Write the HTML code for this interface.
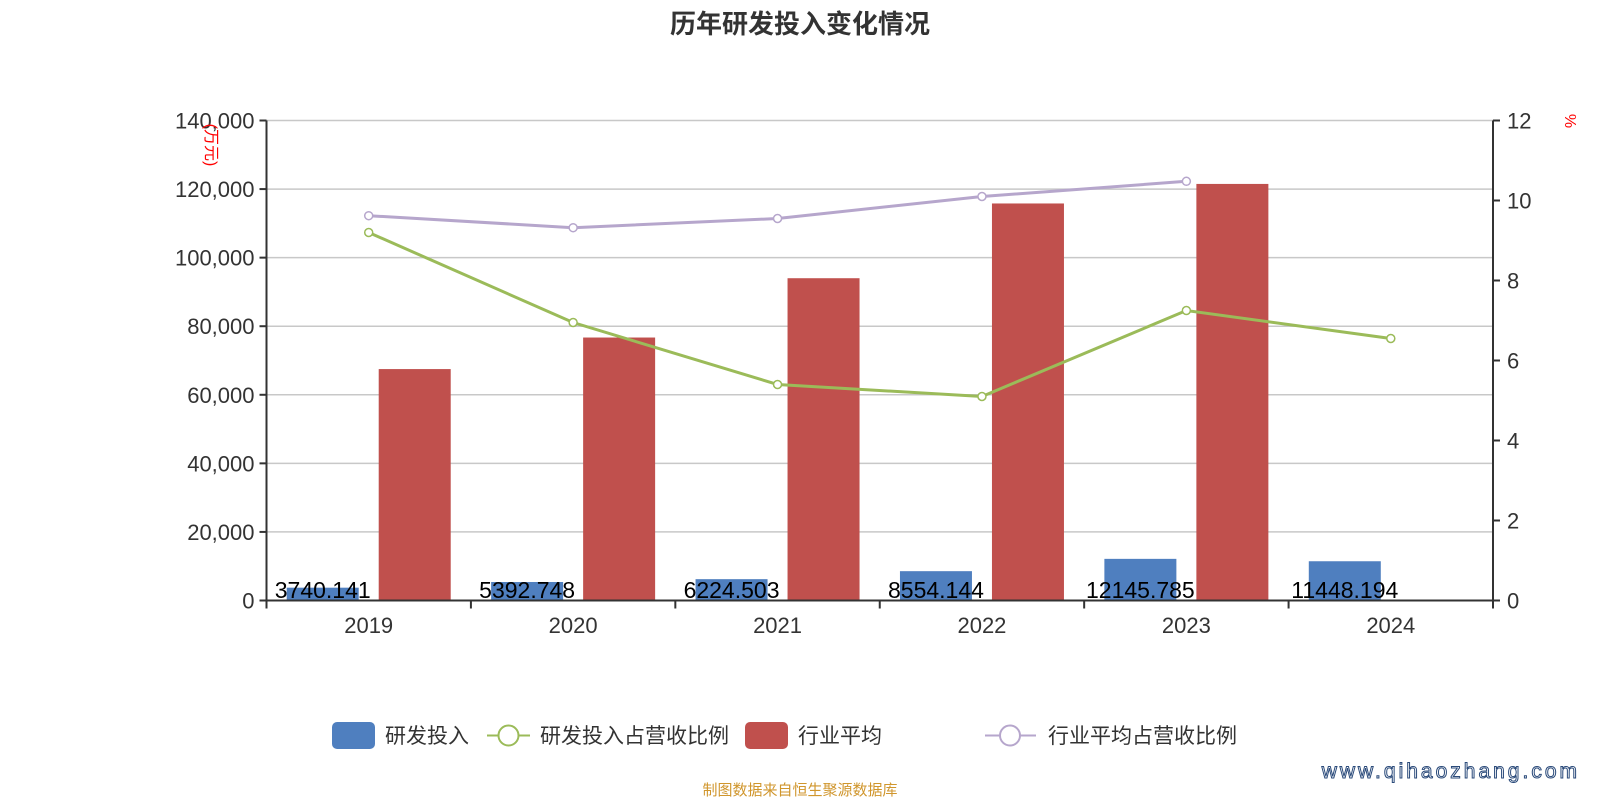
<!DOCTYPE html>
<html><head><meta charset="utf-8">
<style>
html,body{margin:0;padding:0;background:#fff;}
svg{display:block;font-family:"Liberation Sans","Noto Sans CJK SC",sans-serif;}
</style></head>
<body>
<svg id="chart" width="1600" height="800" viewBox="0 0 1600 800">
<text x="800" y="33" text-anchor="middle" font-size="26" font-weight="bold" fill="#333">历年研发投入变化情况</text>
<g id="grid"></g>
<g id="bars"></g>
<g id="lines"></g>
<g id="axes"></g>
<text transform="translate(206,145) rotate(90)" text-anchor="middle" font-size="16" fill="#f00">(万元)</text>
<text transform="translate(1565,121) rotate(90)" text-anchor="middle" font-size="16" fill="#f00">%</text>
<g>
<g><rect x="332" y="722" width="43" height="27" rx="5" fill="#4f7fbf"/><text x="385" y="743" font-size="21" fill="#333">研发投入</text></g>
<g><line x1="487" y1="735.5" x2="530" y2="735.5" stroke="#9bbb59" stroke-width="2"/><circle cx="508.5" cy="735.5" r="10" fill="#fff" stroke="#9bbb59" stroke-width="2"/><text x="540" y="743" font-size="21" fill="#333">研发投入占营收比例</text></g>
<g><rect x="745" y="722" width="43" height="27" rx="5" fill="#c0504d"/><text x="798" y="743" font-size="21" fill="#333">行业平均</text></g>
<g><line x1="985" y1="735.5" x2="1036" y2="735.5" stroke="#b6a6cc" stroke-width="2"/><circle cx="1010" cy="735.5" r="10" fill="#fff" stroke="#b6a6cc" stroke-width="2"/><text x="1048" y="743" font-size="21" fill="#333">行业平均占营收比例</text></g>
</g>
<text x="800" y="795" text-anchor="middle" font-size="15" fill="#d0962d">制图数据来自恒生聚源数据库</text>
<text x="1580" y="778" text-anchor="end" font-size="21" fill="#fff" stroke="#2a4a7a" stroke-width="1" letter-spacing="3">www.qihaozhang.com</text>
</svg>
<script>
const categories=["2019","2020","2021","2022","2023","2024"];
const rdValues=[3740.141,5392.748,6224.503,8554.144,12145.785,11448.194];
const rdLabels=["3740.141","5392.748","6224.503","8554.144","12145.785","11448.194"];
const industryValues=[67500,76700,94000,115800,121500,null];
const rdRatio=[9.2,6.95,5.4,5.1,7.25,6.55];
const industryRatio=[9.62,9.32,9.55,10.1,10.48,null];
const leftTicks=[0,20000,40000,60000,80000,100000,120000,140000];
const rightTicks=[0,2,4,6,8,10,12];

const NS="http://www.w3.org/2000/svg";
const L=266.5,R=1493,T=120.5,B=600.5;
const band=(R-L)/categories.length;
const yL=v=>B-(v/140000)*(B-T);
const yR=v=>B-(v/12)*(B-T);
const cx=i=>L+band*(i+0.5);
function mk(tag,attrs,parent){const e=document.createElementNS(NS,tag);for(const k in attrs)e.setAttribute(k,attrs[k]);parent.appendChild(e);return e;}
const grid=document.getElementById('grid'),bars=document.getElementById('bars'),lines=document.getElementById('lines'),axes=document.getElementById('axes');
leftTicks.forEach(t=>{
  const y=yL(t);
  if(t>0){const g=mk('line',{x1:L,x2:R,y1:y,y2:y,stroke:'#c8c8c8','stroke-width':1.5},grid);
  
  }
  mk('line',{x1:L-7,x2:L,y1:y,y2:y,stroke:'#333','stroke-width':2},axes);
  const tx=mk('text',{x:L-12,y:y+8,'text-anchor':'end','font-size':22,fill:'#333'},axes);
  tx.textContent=t.toLocaleString('en-US');
  
  
});
rightTicks.forEach(t=>{
  const y=yR(t);
  mk('line',{x1:R,x2:R+7,y1:y,y2:y,stroke:'#333','stroke-width':2},axes);
  const tx=mk('text',{x:R+14,y:y+8,'font-size':22,fill:'#333'},axes);
  tx.textContent=t;
  
  
});
mk('line',{x1:L,x2:L,y1:T,y2:B,stroke:'#333','stroke-width':2},axes);
mk('line',{x1:R,x2:R,y1:T,y2:B,stroke:'#333','stroke-width':2},axes);
mk('line',{x1:L-1,x2:R+1,y1:B,y2:B,stroke:'#333','stroke-width':2},axes);
for(let i=0;i<=categories.length;i++){const x=L+band*i;mk('line',{x1:x,x2:x,y1:B,y2:B+8,stroke:'#333','stroke-width':2},axes);}
categories.forEach((c,i)=>{
  const tx=mk('text',{x:cx(i),y:633,'text-anchor':'middle','font-size':22,fill:'#333'},axes);
  tx.textContent=c;
  
  
});
const bw=72;
rdValues.forEach((v,i)=>{
  const y=yL(v);
  const r=mk('rect',{x:cx(i)-82,y:y,width:bw,height:B-y,fill:'#4f7fbf'},bars);
  
  
});
industryValues.forEach((v,i)=>{
  if(v==null)return;
  const y=yL(v);
  const r=mk('rect',{x:cx(i)+10,y:y,width:bw,height:B-y,fill:'#c0504d'},bars);
  
  
});
rdLabels.forEach((s,i)=>{
  const tx=mk('text',{x:cx(i)-46,y:598,'text-anchor':'middle','font-size':23,fill:'#000'},bars);
  tx.textContent=s;
  
  
});
function drawLine(vals,color,name){
  const pts=[];vals.forEach((v,i)=>{if(v!=null)pts.push([cx(i),yR(v)]);});
  const p=mk('polyline',{points:pts.map(p=>p.join(',')).join(' '),fill:'none',stroke:color,'stroke-width':3},lines);
  
  
  pts.forEach(pt=>{const c=mk('circle',{cx:pt[0],cy:pt[1],r:4,fill:'#fff',stroke:color,'stroke-width':1.5},lines);
  
  });
}
drawLine(industryRatio,'#b6a6cc','industry-ratio');
drawLine(rdRatio,'#9bbb59','rd-ratio');
</script>
</body></html>
